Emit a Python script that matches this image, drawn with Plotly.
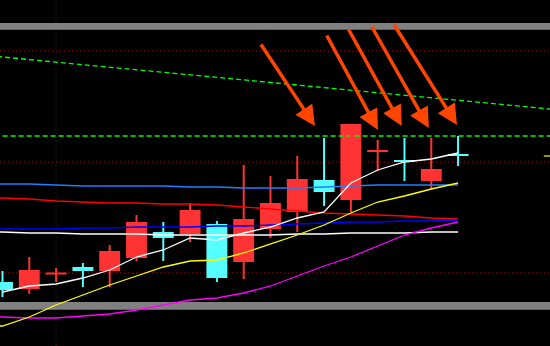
import plotly.graph_objects as go

# ---- data (price units) ----
idx = list(range(18))
opens  = [64, 57, 71.5, 79, 75, 88, 114, 112, 122, 84, 117, 134, 166, 146, 194, 186, 165, 192]
highs  = [75, 89, 78, 83, 101, 131, 124, 143, 125, 181, 170, 190, 208, 222, 206, 208, 208, 210]
lows   = [49, 52, 64, 59, 59, 85, 85, 104, 64, 67, 108, 114, 140, 134, 175, 165, 157, 180]
closes = [56, 76, 73.5, 75, 95, 124, 108, 136, 68, 127, 143, 167, 154, 222, 196, 184, 177, 190]

ma_white  = [54, 60, 62, 68, 76, 89, 96, 108, 106, 113, 119, 128, 134, 163, 176, 184, 187, 193]
ma_yellow = [20, 29, 41, 51, 61, 70, 79, 85, 86, 93, 102, 111, 121, 133, 144, 150, 157, 163]
ma_magenta = [29, 28, 28, 30, 32, 36, 41, 46, 48, 53, 60, 70, 80, 89, 100, 111, 118, 124]
ma_lightblue = [162, 162, 161, 160, 160, 160, 160, 159, 159, 158, 158, 158, 159, 160, 161, 161, 161, 161]
ma_red = [148, 147, 145, 144, 143, 143, 142, 142, 141, 139, 137, 135, 133, 132, 131, 130, 128, 127]
ma_blue = [117, 117, 117, 118, 118, 119, 119, 119, 120, 120, 121, 122, 123, 124, 124, 125, 125, 126]
ma_flatwhite = [114, 113, 113, 112, 112, 112, 111, 111, 111, 111, 111, 112, 112, 113, 113, 113, 114, 114]

trend_x = [-0.2, 20.6]
trend_y = [289.5, 236.5]
resistance = 210
grid_levels = [295, 184, 73]
grid_vline = 2
bands = [(316.3, 323), (36.3, 44)]
price_marker = 190

arrow_x = [11.66, 14.01, 14.9, 15.91, 16.96]
arrow_y = [220, 216, 220, 218, 221]
arrow_ax = [-55, -52, -54, -58, -64]
arrow_ay = [-83, -96, -98, -103, -102]

RED = "#FF3333"
CYAN = "#55FFFF"

XR = [-0.093, 20.43]
YR = [0, 346]

fig = go.Figure()

# green dashed lines
fig.add_trace(go.Scatter(x=trend_x, y=trend_y, mode="lines",
                         line=dict(color="#00FF00", width=1.3, dash="5px,3px"), hoverinfo="skip"))
fig.add_trace(go.Scatter(x=[XR[0] - 0.2, XR[1] + 0.2], y=[resistance, resistance], mode="lines",
                         line=dict(color="#00FF00", width=1.5, dash="5px,3px"), hoverinfo="skip"))

# candles
for color, up in ((RED, True), (CYAN, False)):
    sel = [i for i in idx if (closes[i] >= opens[i]) == up]
    wx, wy = [], []
    for i in sel:
        wx += [i, i, None]
        wy += [lows[i], highs[i], None]
    fig.add_trace(go.Scatter(x=wx, y=wy, mode="lines", line=dict(color=color, width=2),
                             hoverinfo="skip"))
    base = [min(opens[i], closes[i]) for i in sel]
    height = [max(abs(closes[i] - opens[i]), 1.5) for i in sel]
    fig.add_trace(go.Bar(x=sel, y=height, base=base, width=0.78,
                         marker=dict(color=color, line=dict(width=0)), hoverinfo="skip"))

# moving averages (long ones continue from the left edge)
long_mas = ((ma_lightblue, "#1E7FFF"), (ma_red, "#FF0000"), (ma_blue, "#0000FF"),
            (ma_flatwhite, "#FFFFFF"), (ma_magenta, "#FF00FF"), (ma_yellow, "#FFFF00"))
for vals, col in long_mas:
    fig.add_trace(go.Scatter(x=[XR[0]] + idx, y=[vals[0]] + vals, mode="lines",
                             line=dict(color=col, width=1.3), hoverinfo="skip"))
fig.add_trace(go.Scatter(x=idx, y=ma_white, mode="lines",
                         line=dict(color="#FFFFFF", width=1.3), hoverinfo="skip"))

# price marker at right edge
fig.add_trace(go.Scatter(x=[20.2, 20.5], y=[price_marker, price_marker], mode="lines",
                         line=dict(color="#C8C800", width=1.5), hoverinfo="skip"))

shapes = []
for lv in grid_levels:
    shapes.append(dict(type="line", xref="paper", x0=0, x1=1, y0=lv, y1=lv, layer="below",
                       line=dict(color="#B00000", width=1, dash="1px,3px")))
shapes.append(dict(type="line", x0=grid_vline, x1=grid_vline, yref="paper", y0=0, y1=1,
                   layer="below", line=dict(color="#B00000", width=1, dash="1px,3px")))
for b0, b1 in bands:
    shapes.append(dict(type="rect", xref="paper", x0=0, x1=1, y0=b0, y1=b1, layer="below",
                       fillcolor="#808080", line=dict(width=0)))

annotations = []
for x, y, ax, ay in zip(arrow_x, arrow_y, arrow_ax, arrow_ay):
    annotations.append(dict(x=x, y=y, ax=ax, ay=ay, text="", showarrow=True,
                            arrowhead=2, arrowsize=1.15, arrowwidth=3.5,
                            arrowcolor="#FF4500", standoff=0))

fig.update_layout(
    width=550, height=346, margin=dict(l=0, r=0, t=0, b=0),
    paper_bgcolor="#000000", plot_bgcolor="#000000",
    showlegend=False, barmode="overlay",
    xaxis=dict(range=XR, visible=False, fixedrange=True),
    yaxis=dict(range=YR, visible=False, fixedrange=True),
    shapes=shapes, annotations=annotations,
)

fig.write_html("out.html", config={"displayModeBar": False})
